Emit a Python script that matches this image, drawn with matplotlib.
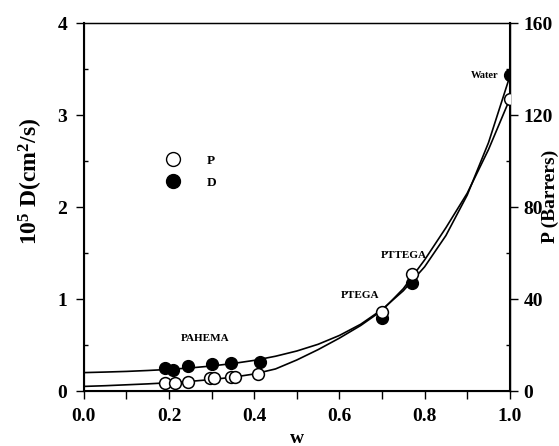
import matplotlib
matplotlib.use( "Agg" )
import matplotlib.pyplot as plt
from matplotlib.ticker import MultipleLocator, FormatStrFormatter
from matplotlib.lines import Line2D

# --- data --- #
# measured points: diffusivity D (10^5 cm2/s) and permeability P (Barrers) vs w
d_w = [ 0.19, 0.21, 0.245, 0.30, 0.345, 0.413, 0.70, 0.77, 1.0 ]
d_val = [ 0.25, 0.23, 0.27, 0.29, 0.30, 0.32, 0.79, 1.17, 3.43 ]

p_w = [ 0.19, 0.215, 0.245, 0.295, 0.305, 0.345, 0.355, 0.41, 0.70, 0.77, 1.0 ]
p_val = [ 3.5, 3.5, 4.0, 5.5, 5.5, 6.0, 6.3, 7.2, 34.5, 51.0, 127.0 ]

# fitted curves
curve_w = [ 0.0, 0.05, 0.1, 0.15, 0.2, 0.25, 0.3, 0.35, 0.4, 0.45, 0.5,
			0.55, 0.6, 0.65, 0.7, 0.75, 0.8, 0.85, 0.9, 0.95, 1.0 ]
d_curve = [ 0.20, 0.206, 0.213, 0.223, 0.235, 0.251, 0.272, 0.299, 0.333, 0.378, 0.435,
			0.508, 0.604, 0.726, 0.886, 1.09, 1.35, 1.69, 2.13, 2.70, 3.42 ]
p_curve = [ 2.0, 2.3, 2.7, 3.1, 3.6, 4.2, 5.0, 6.0, 7.4, 9.6, 13.5,
			18.0, 23.0, 28.5, 35.0, 44.5, 57.0, 71.0, 86.0, 105.0, 127.0 ]

labels = [ ( "PAHEMA", 0.285, 0.57, 8 ), ( "PTEGA", 0.648, 1.04, 8 ),
			( "PTTEGA", 0.752, 1.47, 8 ), ( "Water", 0.94, 3.43, 7.5 ) ]

# --- end of data --- #

plt.rcParams['font.family'] = [ 'Liberation Serif', 'DejaVu Serif' ]
plt.rcParams['font.weight'] = 'bold'
plt.rcParams['mathtext.fontset'] = 'custom'
plt.rcParams['mathtext.rm'] = 'Liberation Serif:bold'
plt.rcParams['mathtext.it'] = 'Liberation Serif:bold'

fig = plt.figure( figsize=( 5.59, 4.46 ), dpi=100 )
ax = fig.add_axes( [ 0.150, 0.1233, 0.762, 0.825 ] )
ax2 = ax.twinx()

ax.plot( curve_w, d_curve, color="black", linewidth=1.2 )
ax2.plot( curve_w, p_curve, color="black", linewidth=1.2 )

ax.plot( d_w, d_val, linestyle="none", marker="o", markersize=8.5,
		markerfacecolor="black", markeredgecolor="black", zorder=5 )
ax2.plot( p_w, p_val, linestyle="none", marker="o", markersize=8.5,
		markerfacecolor="white", markeredgecolor="black", markeredgewidth=1.1, zorder=6 )

for text, x, y, size in labels:
	ax.text( x, y, text, ha="center", va="center", fontsize=size, fontweight="bold" )

handles = [ Line2D( [], [], linestyle="none", marker="o", markersize=10,
				markerfacecolor="white", markeredgecolor="black" ),
			Line2D( [], [], linestyle="none", marker="o", markersize=10,
				markerfacecolor="black", markeredgecolor="black" ) ]
ax.legend( handles, [ "P", "D" ], loc="upper left", bbox_to_anchor=( 0.15, 0.675 ),
		frameon=False, handletextpad=1.6, labelspacing=0.75, prop={ 'weight': 'bold', 'size': 9.5 } )

ax.set_xlim( 0, 1 )
ax.set_ylim( 0, 4 )
ax2.set_ylim( 0, 160 )

ax.xaxis.set_major_locator( MultipleLocator( 0.2 ) )
ax.xaxis.set_minor_locator( MultipleLocator( 0.1 ) )
ax.xaxis.set_major_formatter( FormatStrFormatter( "%.1f" ) )
ax.yaxis.set_major_locator( MultipleLocator( 1 ) )
ax.yaxis.set_minor_locator( MultipleLocator( 0.5 ) )
ax2.yaxis.set_major_locator( MultipleLocator( 40 ) )
ax2.yaxis.set_minor_locator( MultipleLocator( 20 ) )

ax.tick_params( axis="x", which="both", direction="out", length=6, width=1, labelsize=14, pad=6 )
ax.tick_params( axis="y", which="major", direction="out", length=6, width=1, labelsize=14, pad=6 )
ax.tick_params( axis="y", which="minor", direction="in", length=3, width=1 )
ax2.tick_params( axis="y", which="major", direction="out", length=6, width=1, labelsize=14, pad=4 )
ax2.tick_params( axis="y", which="minor", direction="in", length=3, width=1 )

for spine in ax.spines.values():
	spine.set_linewidth( 1.0 )
ax2.spines['right'].set_linewidth( 1.5 )
ax.spines['left'].set_linewidth( 1.5 )
ax.spines['bottom'].set_linewidth( 1.5 )

ax.set_xlabel( "w", fontsize=14, fontweight="bold" )
ax.set_ylabel( r"10$^{5}$ D(cm$^{2}$/s)", fontsize=17, fontweight="bold" )
ax2.set_ylabel( "P (Barrers)", fontsize=14, fontweight="bold" )
ax.xaxis.set_label_coords( 0.5, -0.105 )
ax2.yaxis.set_label_coords( 1.075, 0.53 )
ax.yaxis.set_label_coords( -0.092, 0.57 )

fig.savefig( "out.png", dpi=100 )
